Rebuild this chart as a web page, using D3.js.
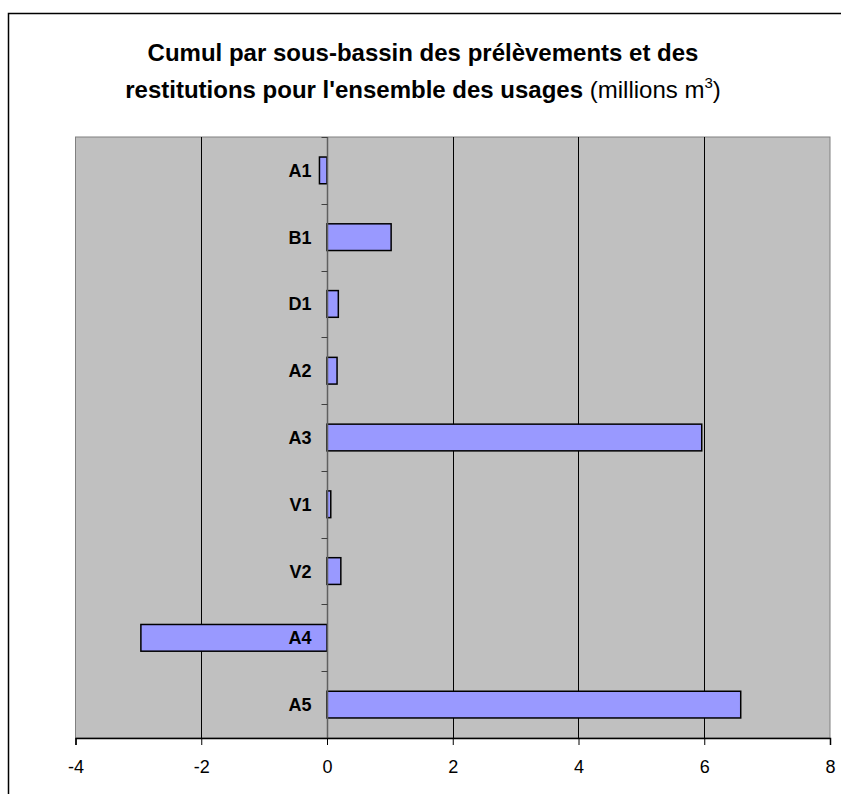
<!DOCTYPE html>
<html><head><meta charset="utf-8">
<script src="https://cdn.jsdelivr.net/npm/d3@7"></script>
<style>body{margin:0;background:#fff;}svg{display:block;font-family:"Liberation Sans",Arial,sans-serif;}</style>
</head><body>
<svg id="c" width="841" height="794"></svg>
<script>
const categories = ["A1","B1","D1","A2","A3","V1","V2","A4","A5"];
const values = [-0.12, 1.02, 0.18, 0.16, 5.96, 0.06, 0.22, -2.96, 6.58];
const xTicks = [-4,-2,0,2,4,6,8];
const titleLine1 = "Cumul par sous-bassin des prélèvements et des";
const titleLine2Bold = "restitutions pour l'ensemble des usages";
const titleLine2Reg = " (millions m";

const svg = d3.select("#c");
const L = 75.5, R = 830, T = 137, B = 738;
svg.append("rect").attr("x",8.5).attr("y",13.5).attr("width",850).attr("height",800)
  .attr("fill","#fff").attr("stroke","#000").attr("stroke-width",1.5);

const x = d3.scaleLinear().domain([-4,8]).range([L,R]);
const y = d3.scaleBand().domain(categories).range([T,B]).paddingInner(0.6).paddingOuter(0.3);
const yb = d3.scaleBand().domain(categories).range([T,B]);

svg.append("rect").attr("x",L).attr("y",T).attr("width",R-L).attr("height",B-T)
  .attr("fill","#C0C0C0").attr("stroke","#808080").attr("stroke-width",1);

// gridlines
svg.append("g").selectAll("line").data(xTicks.filter(d=>d!==-4 && d!==8 && d!==0)).join("line")
  .attr("x1",d=>Math.round(x(d))+0.5).attr("x2",d=>Math.round(x(d))+0.5)
  .attr("y1",T).attr("y2",B).attr("stroke","#000").attr("stroke-width",1);

// bars
svg.append("g").selectAll("rect").data(values).join("rect")
  .attr("x",(d)=>x(Math.min(0,d)))
  .attr("width",d=>Math.abs(x(d)-x(0)))
  .attr("y",(d,i)=>y(categories[i]))
  .attr("height",y.bandwidth())
  .attr("fill","#9999FF").attr("stroke","#000").attr("stroke-width",1.5);

// zero axis
const x0 = Math.round(x(0))+0.5;
svg.append("line").attr("x1",x0).attr("x2",x0).attr("y1",T).attr("y2",B)
  .attr("stroke","#606060").attr("stroke-width",1.5);
svg.append("g").selectAll("line").data(d3.range(categories.length+1)).join("line")
  .attr("x1",x0-6).attr("x2",x0)
  .attr("y1",i=>Math.round(T+i*yb.step())+0.5).attr("y2",i=>Math.round(T+i*yb.step())+0.5)
  .attr("stroke","#404040").attr("stroke-width",1);

// category labels
svg.append("g").selectAll("text").data(categories).join("text")
  .attr("x",x0-16).attr("y",d=>yb(d)+yb.bandwidth()/2+6.5)
  .attr("text-anchor","end").attr("font-weight","bold").attr("font-size",18)
  .attr("fill","#000").text(d=>d);

// bottom axis
const ax = svg.append("g").attr("transform",`translate(0,${B})`)
  .call(d3.axisBottom(x).tickValues(xTicks).tickSize(7).tickFormat(d=>String(d)));
ax.select(".domain").attr("stroke","#000").attr("stroke-width",1.5);
ax.selectAll(".tick line").attr("stroke","#000");
ax.selectAll("text").attr("font-size",18).attr("font-family","Liberation Sans, Arial, sans-serif")
  .attr("y",35).attr("dy",0).attr("fill","#000");

// title
svg.append("text").attr("x",423).attr("y",61).attr("text-anchor","middle")
  .attr("font-weight","bold").attr("font-size",24).text(titleLine1);
const t2 = svg.append("text").attr("x",423).attr("y",98).attr("text-anchor","middle").attr("font-size",24);
t2.append("tspan").attr("font-weight","bold").text(titleLine2Bold);
t2.append("tspan").text(titleLine2Reg);
t2.append("tspan").attr("font-size",15).attr("dy",-10).text("3");
t2.append("tspan").attr("dy",10).text(")");
</script>
</body></html>
